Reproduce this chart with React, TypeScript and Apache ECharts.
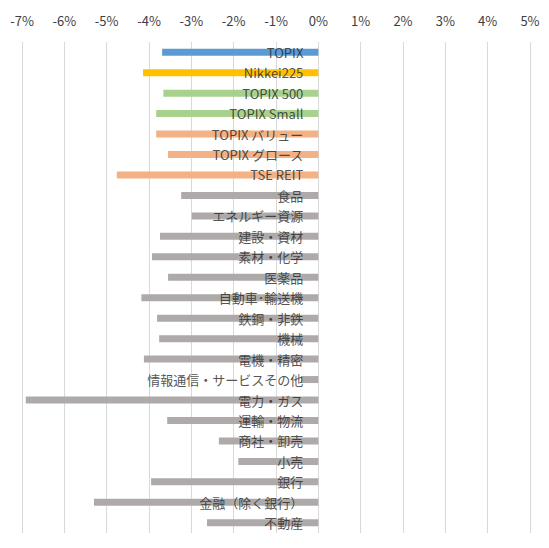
import * as React from "react";
import * as echarts from "echarts";

// 騰落率 (%)
const categories = [
  "TOPIX", "Nikkei225", "TOPIX 500", "TOPIX Small",
  "TOPIX バリュー", "TOPIX グロース", "TSE REIT",
  "食品", "エネルギー資源", "建設・資材", "素材・化学", "医薬品",
  "自動車･輸送機", "鉄鋼・非鉄", "機械", "電機・精密",
  "情報通信・サービスその他", "電力・ガス", "運輸・物流", "商社・卸売",
  "小売", "銀行", "金融（除く銀行）", "不動産",
];
const values = [
  -3.69, -4.14, -3.66, -3.83,
  -3.83, -3.55, -4.76,
  -3.24, -2.99, -3.74, -3.93, -3.55,
  -4.18, -3.81, -3.76, -4.12,
  -0.41, -6.91, -3.57, -2.35,
  -1.89, -3.95, -5.30, -2.63,
];
const groups = [
  "topix", "nikkei", "size", "size",
  "style", "style", "style",
  ...Array(17).fill("sector"),
];
const xTicks = { min: -7, max: 5, step: 1 };

const palette: Record<string, string> = {
  topix: "#5b9bd5",
  nikkei: "#ffc000",
  size: "#a9d18e",
  style: "#f4b183",
  sector: "#aeaaaa",
};

const FONT = "'Noto Sans CJK JP', 'Noto Sans', sans-serif";

export default function App() {
  const ref = React.useRef<HTMLDivElement>(null);
  React.useEffect(() => {
    if (!ref.current) return;
    const chart = echarts.init(ref.current, undefined, { renderer: "svg" });
    chart.setOption({
      animation: false,
      textStyle: { fontFamily: FONT },
      grid: { left: 22, right: 19, top: 42, bottom: 15, outerBoundsMode: "none", containLabel: false },
      xAxis: {
        type: "value",
        position: "top",
        min: xTicks.min,
        max: xTicks.max,
        interval: xTicks.step,
        axisLine: { show: false },
        axisTick: { show: false },
        axisLabel: {
          formatter: (v: number) => `${v}%`,
          color: "#404040",
          fontSize: 13,
          fontFamily: FONT,
          margin: 15,
        },
        splitLine: { lineStyle: { color: "#d9d9d9", width: 1 } },
      },
      yAxis: {
        type: "category",
        data: categories,
        inverse: true,
        axisLine: { show: false },
        axisTick: { show: false },
        axisLabel: { show: false },
        splitLine: { show: false },
      },
      series: [
        {
          type: "bar",
          barWidth: 7,
          data: values.map((v, i) => ({
            value: v,
            itemStyle: { color: palette[groups[i]] },
          })),
        },
        {
          // category names, anchored at the 0% line
          type: "scatter",
          silent: true,
          symbolSize: 0,
          z: 5,
          data: categories.map((c) => [0, c]),
          label: {
            show: true,
            position: "left",
            distance: 15,
            formatter: (p: any) => p.value[1],
            color: "#262626",
            fontSize: 13,
            fontFamily: FONT,
          },
        },
      ],
    });
    return () => chart.dispose();
  }, []);
  return (
    <div
      ref={ref}
      style={{ position: "fixed", left: 0, top: 0, width: 549, height: 548, background: "#fff" }}
    />
  );
}
